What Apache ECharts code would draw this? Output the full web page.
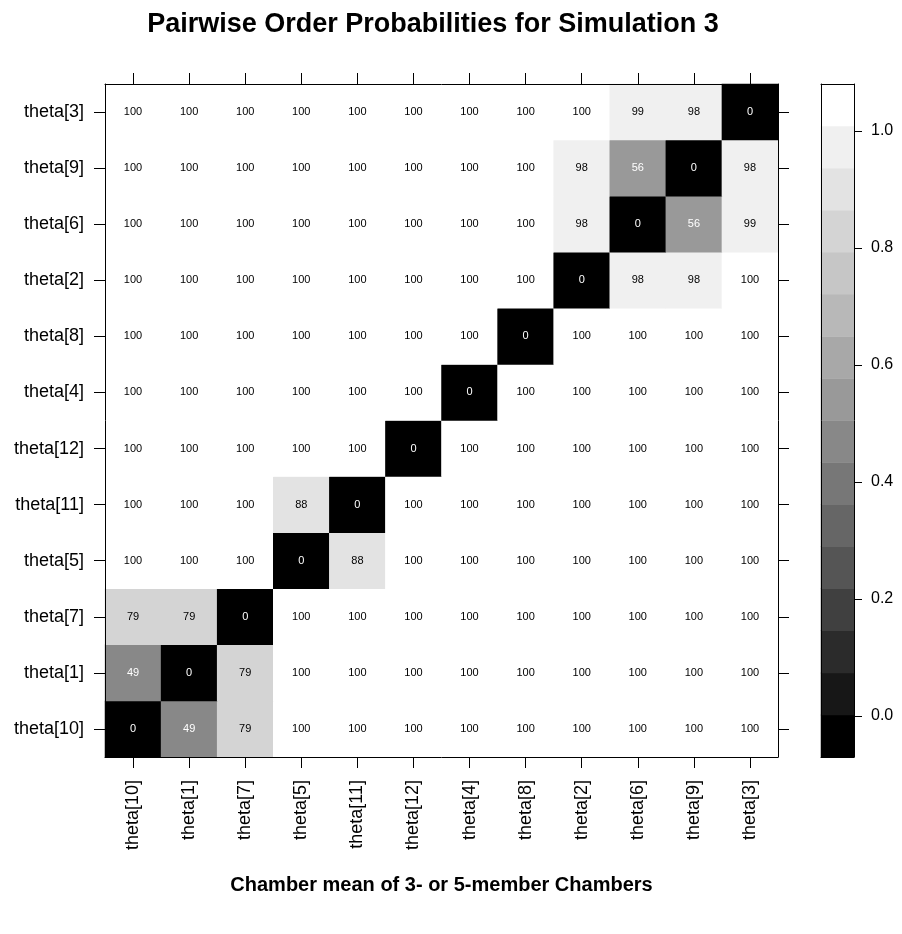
<!DOCTYPE html>
<html><head><meta charset="utf-8">
<script src="https://cdn.jsdelivr.net/npm/echarts@6/dist/echarts.min.js"></script>
<style>html,body{margin:0;padding:0;background:#fff}#c{width:902px;height:934px}</style>
</head><body><div id="c"></div>
<script>
// Category order (x: left -> right, y: bottom -> top)
const categories = ['theta[10]','theta[1]','theta[7]','theta[5]','theta[11]','theta[12]','theta[4]','theta[8]','theta[2]','theta[6]','theta[9]','theta[3]'];

// Pairwise order probabilities (percent); rows follow categories bottom -> top
const rowTheta10 = [0,49,79,100,100,100,100,100,100,100,100,100];
const rowTheta1  = [49,0,79,100,100,100,100,100,100,100,100,100];
const rowTheta7  = [79,79,0,100,100,100,100,100,100,100,100,100];
const rowTheta5  = [100,100,100,0,88,100,100,100,100,100,100,100];
const rowTheta11 = [100,100,100,88,0,100,100,100,100,100,100,100];
const rowTheta12 = [100,100,100,100,100,0,100,100,100,100,100,100];
const rowTheta4  = [100,100,100,100,100,100,0,100,100,100,100,100];
const rowTheta8  = [100,100,100,100,100,100,100,0,100,100,100,100];
const rowTheta2  = [100,100,100,100,100,100,100,100,0,98,98,100];
const rowTheta6  = [100,100,100,100,100,100,100,100,98,0,56,99];
const rowTheta9  = [100,100,100,100,100,100,100,100,98,56,0,98];
const rowTheta3  = [100,100,100,100,100,100,100,100,100,99,98,0];
const probRows = [rowTheta10,rowTheta1,rowTheta7,rowTheta5,rowTheta11,rowTheta12,rowTheta4,rowTheta8,rowTheta2,rowTheta6,rowTheta9,rowTheta3];

// Colour key: 16 bands (percent breaks) and their greys
const bandBreaks = [-7,0.125,7.25,14.375,21.5,28.625,35.75,42.875,50,57.125,64.25,71.375,78.5,85.625,92.75,99.875,107];
const bandColors = ['#000000','#171717','#2b2b2b','#404040','#555555','#666666','#777777','#888888','#999999','#a8a8a8','#b8b8b8','#c6c6c6','#d4d4d4','#e3e3e3','#f0f0f0','#ffffff'];
const keyTicks = [0,0.2,0.4,0.6,0.8,1.0];
const keyRange = [-0.07, 1.08];

const FONT = "'Liberation Sans', Arial, Helvetica, sans-serif";
const cells = [];
probRows.forEach((row, yi) => row.forEach((v, xi) => {
  cells.push({ value: [xi, yi, v], label: { color: v < 60 ? '#ffffff' : '#000000' } });
}));
const pieces = bandColors.map((c, i) => (i === bandColors.length - 1)
  ? { gte: bandBreaks[i], lte: bandBreaks[i + 1], color: c }
  : { gte: bandBreaks[i], lt: bandBreaks[i + 1], color: c });
const bandNames = bandColors.map((c, i) => 'b' + i);
const keyCells = bandColors.map((c, i) => ({ value: [0, i, i], itemStyle: { color: c } }));

const lineBlack = { color: '#000', width: 1 };
const axisLine = { show: true, onZero: false, lineStyle: lineBlack };
const tick = { show: true, interval: 0, alignWithLabel: true, length: 11, lineStyle: lineBlack };
const txt = { fontFamily: FONT, color: '#000' };
const AZ = 10;

const chart = echarts.init(document.getElementById('c'), null, { renderer: 'canvas' });
chart.setOption({
  animation: false,
  backgroundColor: '#ffffff',
  title: {
    text: 'Pairwise Order Probabilities for Simulation 3',
    left: 428, top: 6, textAlign: 'center',
    textStyle: Object.assign({ fontSize: 27, fontWeight: 'bold' }, txt)
  },
  grid: [
    { left: 105, top: 84, width: 673, height: 673 },
    { left: 821, top: 84, width: 33, height: 673 }
  ],
  xAxis: [
    { type: 'category', gridIndex: 0, z: AZ, data: categories, position: 'bottom', axisLine, axisTick: tick,
      axisLabel: Object.assign({ interval: 0, rotate: 90, margin: 23, fontSize: 18 }, txt), splitLine: { show: false },
      name: 'Chamber mean of 3- or 5-member Chambers', nameLocation: 'middle', nameGap: 118, nameMoveOverlap: false,
      nameTextStyle: Object.assign({ fontSize: 20, fontWeight: 'bold' }, txt) },
    { type: 'category', gridIndex: 0, z: AZ, data: categories, position: 'top', axisLine, axisTick: tick,
      axisLabel: { show: false, interval: 0 }, splitLine: { show: false } },
    { type: 'category', gridIndex: 1, z: AZ, data: ['key'], position: 'bottom', axisLine,
      axisTick: { show: false }, axisLabel: { show: false }, splitLine: { show: false } },
    { type: 'category', gridIndex: 1, z: AZ, data: ['key'], position: 'top', axisLine,
      axisTick: { show: false }, axisLabel: { show: false }, splitLine: { show: false } }
  ],
  yAxis: [
    { type: 'category', gridIndex: 0, z: AZ, data: categories, position: 'left', axisLine, axisTick: tick,
      axisLabel: Object.assign({ interval: 0, margin: 21, fontSize: 18 }, txt), splitLine: { show: false } },
    { type: 'category', gridIndex: 0, z: AZ, data: categories, position: 'right', axisLine, axisTick: tick,
      axisLabel: { show: false, interval: 0 }, splitLine: { show: false } },
    { type: 'category', gridIndex: 1, z: AZ, data: bandNames, position: 'left', axisLine,
      axisTick: { show: false }, axisLabel: { show: false }, splitLine: { show: false } },
    { type: 'value', gridIndex: 1, z: AZ, min: keyRange[0], max: keyRange[1],
      position: 'right', axisLine, splitLine: { show: false },
      axisTick: { show: true, length: 8, customValues: keyTicks, lineStyle: lineBlack },
      axisLabel: Object.assign({ customValues: keyTicks, formatter: v => Number(v).toFixed(1), margin: 17, fontSize: 16 }, txt) }
  ],
  visualMap: { type: 'piecewise', show: false, seriesIndex: 0, dimension: 2, pieces },
  series: [
    { type: 'heatmap', xAxisIndex: 0, yAxisIndex: 0, z: 1, data: cells,
      label: { show: true, fontSize: 11, fontFamily: FONT },
      emphasis: { disabled: true } },
    { type: 'heatmap', xAxisIndex: 2, yAxisIndex: 2, z: 1, data: keyCells, emphasis: { disabled: true } }
  ]
});
</script></body></html>
